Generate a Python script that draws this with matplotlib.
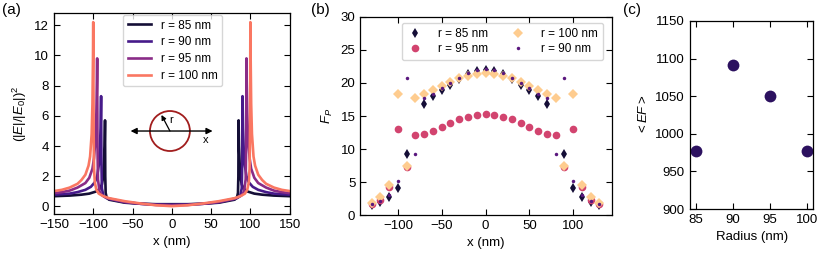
import numpy as np
import matplotlib
matplotlib.use('Agg')
import matplotlib.pyplot as plt
from matplotlib.patches import Ellipse

plt.rcParams['font.family'] = ['Liberation Sans', 'DejaVu Sans']
plt.rcParams['mathtext.fontset'] = 'custom'
plt.rcParams['mathtext.rm'] = 'Liberation Sans'
plt.rcParams['mathtext.it'] = 'Liberation Sans:italic'
plt.rcParams['font.size'] = 9.5

# ---- panel (a): field enhancement profiles (left half, mirrored below)
radii = [85, 90, 95, 100]
x85 = [-150, -130, -115, -105, -97, -92, -89, -87.5, -86.3, -85.5, -85,
       -84.7, -84.2, -83, -80, -60, -40, -20, 0]
y85 = [0.68, 0.72, 0.78, 0.85, 0.98, 1.15, 1.45, 1.9, 2.9, 4.0, 5.7,
       2.0, 0.9, 0.6, 0.45, 0.25, 0.18, 0.15, 0.15]
x90 = [-150, -130, -120, -110, -103, -98, -95, -93, -91.5, -90.6, -90,
       -89.6, -89, -87, -83, -80, -60, -40, -20, 0]
y90 = [0.78, 0.85, 0.95, 1.1, 1.3, 1.6, 2.0, 2.7, 3.8, 5.2, 7.3,
       3.0, 1.2, 0.7, 0.55, 0.5, 0.28, 0.18, 0.13, 0.12]
x95 = [-150, -140, -130, -120, -110, -105, -101, -99, -97, -96, -95.3, -95,
       -94.6, -94, -92, -89, -85, -80, -60, -40, -20, 0]
y95 = [0.88, 0.95, 1.05, 1.25, 1.55, 1.9, 2.5, 3.2, 4.6, 6.2, 8.3, 9.8,
       4.0, 1.8, 1.0, 0.75, 0.62, 0.52, 0.3, 0.18, 0.1, 0.08]
x100 = [-150, -140, -130, -120, -115, -110, -106, -104, -102, -101, -100.3, -100,
        -99.5, -99, -98, -96, -93, -88, -80, -60, -40, -20, 0]
y100 = [1.02, 1.1, 1.25, 1.5, 1.75, 2.1, 2.7, 3.3, 4.8, 6.8, 10.0, 12.2,
        5.0, 2.5, 1.6, 1.1, 0.85, 0.7, 0.55, 0.35, 0.2, 0.08, 0.02]
line_x = [x85, x90, x95, x100]
line_y = [y85, y90, y95, y100]
line_colors = ['#140e36', '#461a8a', '#8a2c87', '#fa7762']

# ---- panel (b): Purcell factor vs emitter position
xb = [-130, -120, -110, -100, -90, -80, -70, -60, -50, -40, -30, -20, -10, 0,
      10, 20, 30, 40, 50, 60, 70, 80, 90, 100, 110, 120, 130]
fp85 = [1.5, 2.0, 2.7, 4.1, 9.2, np.nan, 16.8, 18.1, 18.9, 19.7, 20.6, 21.3, 21.8, 22.0,
        21.8, 21.3, 20.6, 19.7, 18.9, 18.1, 16.8, np.nan, 9.2, 4.1, 2.7, 2.0, 1.5]
fp90 = [1.6, 2.1, 3.0, 5.2, 20.8, 9.2, 17.8, 18.4, 19.2, 20.0, 20.8, 21.5, 21.9, 22.1,
        21.9, 21.5, 20.8, 20.0, 19.2, 18.4, 17.8, 9.2, 20.8, 5.2, 3.0, 2.1, 1.6]
fp95 = [1.7, 2.3, 4.2, 13.1, 7.3, 12.1, 12.3, 12.8, 13.4, 14.0, 14.5, 14.9, 15.2, 15.3,
        15.2, 14.9, 14.5, 14.0, 13.4, 12.8, 12.3, 12.1, 7.3, 13.1, 4.2, 2.3, 1.7]
fp100 = [1.9, 2.7, 4.5, 18.3, 7.5, 17.7, 18.3, 18.9, 19.6, 20.2, 20.7, 21.1, 21.4, 21.5,
         21.4, 21.1, 20.7, 20.2, 19.6, 18.9, 18.3, 17.7, 7.5, 18.3, 4.5, 2.7, 1.9]

# ---- panel (c): average enhancement factor
radius_c = [85, 90, 95, 100]
ef_avg = [977, 1091, 1050, 977]

fig = plt.figure(figsize=(8.3, 2.61), dpi=100)
ax_a = fig.add_axes([0.065, 0.180, 0.284, 0.770])
ax_b = fig.add_axes([0.434, 0.176, 0.303, 0.759])
ax_c = fig.add_axes([0.831, 0.199, 0.149, 0.721])

for ax in (ax_a, ax_b, ax_c):
    ax.tick_params(direction='in', top=True, right=True, length=4, width=0.8,
                   labelsize=9.5)
    for sp in ax.spines.values():
        sp.set_linewidth(0.9)

# (a)
for r, xs, ys, c in zip(radii, line_x, line_y, line_colors):
    xs = np.asarray(xs, float)
    ys = np.asarray(ys, float)
    xf = np.concatenate([xs, -xs[::-1][1:]])
    yf = np.concatenate([ys, ys[::-1][1:]])
    ax_a.plot(xf, yf, color=c, lw=1.9, label=f'r = {r} nm')
ax_a.set_xlim(-150, 150)
ax_a.set_ylim(-0.5, 12.8)
ax_a.set_xticks([-150, -100, -50, 0, 50, 100, 150])
ax_a.set_yticks([0, 2, 4, 6, 8, 10, 12])
ax_a.set_xlabel('x (nm)')
ax_a.set_ylabel(r'$(|E|/|E_0|)^2$')
ax_a.legend(loc='upper left', bbox_to_anchor=(0.285, 1.0), borderaxespad=0.15,
            fontsize=8.5, handlelength=2.0, labelspacing=0.4, handletextpad=0.8)

# sketch of the sphere
ax_a.add_patch(Ellipse((0.492, 0.413), 40 / 236, 40 / 201, transform=ax_a.transAxes,
                       fill=False, edgecolor='#a11d1d', lw=1.3))
ax_a.annotate('', xy=(0.325, 0.413), xytext=(0.673, 0.413), xycoords='axes fraction',
              arrowprops=dict(arrowstyle='<|-|>', color='black', lw=1.0,
                              mutation_scale=9, shrinkA=0, shrinkB=0))
ax_a.annotate('', xy=(0.456, 0.493), xytext=(0.492, 0.413), xycoords='axes fraction',
              arrowprops=dict(arrowstyle='-|>', color='black', lw=0.9,
                              mutation_scale=7, shrinkA=0, shrinkB=0))
ax_a.text(0.497, 0.47, 'r', transform=ax_a.transAxes, fontsize=8, ha='center', va='center')
ax_a.text(0.644, 0.368, 'x', transform=ax_a.transAxes, fontsize=8, ha='center', va='center')

# (b)
ax_b.plot(xb, fp85, 'd', color='#150e37', ms=5, mew=0, label='r = 85 nm')
ax_b.plot(xb, fp95, 'o', color='#d2446f', ms=5.5, mew=0, label='r = 95 nm')
ax_b.plot(xb, fp100, 'D', color='#fecc8f', ms=5.5, mew=0, label='r = 100 nm')
ax_b.plot(xb, fp90, '.', color='#5a177e', ms=5, mew=0, label='r = 90 nm')
ax_b.set_xlim(-143, 144)
ax_b.set_ylim(0, 30)
ax_b.set_xticks([-100, -50, 0, 50, 100])
ax_b.set_yticks([0, 5, 10, 15, 20, 25, 30])
ax_b.set_xlabel('x (nm)')
ax_b.set_ylabel(r'$F_P$')
ax_b.legend(ncol=2, loc='upper right', bbox_to_anchor=(0.97, 0.975), borderaxespad=0.1,
            fontsize=8.5, handlelength=1.5, labelspacing=0.3, columnspacing=1.8,
            handletextpad=1.2)

# (c)
ax_c.plot(radius_c, ef_avg, 'o', color='#2c115f', ms=8.5, mew=0)
ax_c.set_xlim(84.2, 100.8)
ax_c.set_ylim(900, 1150)
ax_c.set_xticks([85, 90, 95, 100])
ax_c.set_yticks([900, 950, 1000, 1050, 1100, 1150])
ax_c.set_xlabel('Radius (nm)')
ax_c.set_ylabel(r'$<EF>$')

fig.text(0.002, 0.99, '(a)', fontsize=11, va='top', ha='left')
fig.text(0.375, 0.99, '(b)', fontsize=11, va='top', ha='left')
fig.text(0.750, 0.99, '(c)', fontsize=11, va='top', ha='left')

fig.savefig('out.png', dpi=100)
